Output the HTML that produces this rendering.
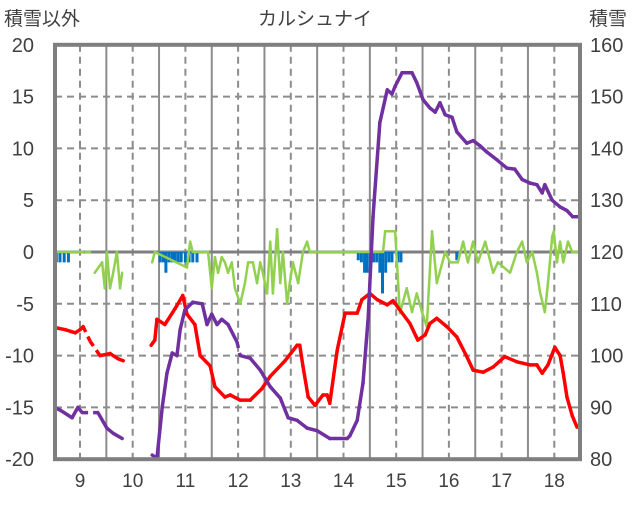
<!DOCTYPE html>
<html><head><meta charset="utf-8">
<style>
html,body{margin:0;padding:0;background:#fff;}
svg text{font-family:"Liberation Sans","Noto Sans CJK JP",sans-serif;fill:#404040;}
</style></head>
<body>
<svg id="chart" width="636" height="501" viewBox="0 0 636 501" xmlns="http://www.w3.org/2000/svg">
<text x="315" y="25" font-size="19" text-anchor="middle">カルシュナイ</text>
<text x="4" y="25" font-size="19">積雪以外</text>
<text x="589" y="25" font-size="19">積雪</text>
<g id="grid"></g><g id="bars"></g><g id="lines"></g><g id="axes"></g>
</svg>
<script>
const leftTicks=[20,15,10,5,0,-5,-10,-15,-20];
const rightTicks=[160,150,140,130,120,110,100,90,80];
const dayLabels=[9,10,11,12,13,14,15,16,17,18];
const redDays=[8.53,8.72,8.91,9.0,9.06,9.19,9.38,9.57,9.72,9.82,null,10.35,10.42,10.46,10.61,10.80,10.95,11.03,11.18,11.28,11.47,11.56,11.75,11.85,12.04,12.23,12.45,12.61,12.89,13.12,13.17,13.23,13.33,13.46,13.61,13.69,13.74,13.88,14.03,14.26,14.35,14.50,14.64,14.83,14.94,15.07,15.26,15.41,15.55,15.64,15.77,15.96,16.15,16.34,16.46,16.65,16.84,17.06,17.29,17.54,17.67,17.77,17.88,18.01,18.11,18.17,18.24,18.34,18.43];
const redVals=[-7.3,-7.5,-7.8,-7.5,-7.2,-8.6,-10,-9.8,-10.3,-10.5,null,-9,-8.5,-6.5,-7,-5.5,-4.2,-6,-7,-10,-11,-13,-14,-13.8,-14.3,-14.3,-13.2,-12,-10.5,-9,-9,-11,-14,-14.8,-13.8,-13.8,-14.6,-9.5,-5.9,-5.9,-4.6,-4,-4.6,-5.1,-4.7,-5.6,-6.9,-8.5,-8,-6.9,-6.4,-7.2,-8.2,-10.1,-11.4,-11.6,-11.1,-10.1,-10.6,-10.9,-10.9,-11.7,-10.9,-9.2,-10,-11.7,-14,-15.8,-16.9];
const redDashed=[4,5];
const snowDays=[8.53,8.62,8.85,8.96,9.04,9.34,9.51,9.63,9.80,null,10.37,10.46,10.56,10.65,10.75,10.84,10.90,10.99,11.14,11.32,11.41,11.50,11.60,11.69,11.81,11.98,12.04,12.23,12.42,12.61,12.80,12.95,13.12,13.31,13.50,13.74,14.07,14.12,14.26,14.37,14.47,14.56,14.69,14.83,14.92,14.98,15.11,15.30,15.39,15.51,15.64,15.74,15.83,15.93,16.06,16.15,16.34,16.46,16.59,16.72,16.91,17.10,17.25,17.39,17.54,17.67,17.77,17.82,17.96,18.11,18.24,18.35,18.45];
const snowVals=[89.9,89.5,88,90,89,89,86,85,84,null,80.8,80.2,90,96.6,100.5,100,105,108.8,110.3,110,106,108,106,107,106,102.6,100,99.5,97.2,94,91.8,88,87.5,86,85.5,84,84,84.5,87.5,94.7,107.5,126.8,145,151.3,150.5,152,154.6,154.6,152.7,149.4,147.8,147,148.8,146.5,146,143.2,141,141.5,140.5,139.3,137.8,136.2,136,134,133.3,133,131.4,133,130,128.7,128,126.8,126.8];
const snowDashed=[4,25];
const greenDays=[8.53,9.0,9.06,null,9.11,9.19,null,9.28,9.42,9.47,9.51,9.57,9.63,9.70,9.76,9.80,null,10.37,10.42,11.03,11.09,11.14,11.43,11.50,11.56,11.62,11.69,11.75,11.81,11.88,11.94,12.04,12.13,12.19,12.28,12.36,12.42,12.47,12.55,12.61,12.66,12.74,12.80,12.85,12.93,12.98,13.04,13.14,13.23,13.31,13.36,14.75,14.79,14.98,15.07,15.20,15.30,15.39,15.49,15.58,15.68,15.77,15.93,16.02,16.17,16.27,16.36,16.46,16.55,16.69,16.84,16.93,17.16,17.29,17.39,17.48,17.58,17.67,17.73,17.82,17.88,17.96,17.99,18.05,18.11,18.17,18.26,18.34,18.45];
const greenVals=[0,0,0,null,0,0,null,-2,-1,-3.5,0,-3.5,-2,0,-3.5,-2,null,-1,0,-1.5,1,0,0,-3.5,-0.5,-2,-0.5,-1,-2,-1,-3.5,-5,-3,-1,-1,-3,-1,-2,-4,1,-4,2.2,-3,0,-5,-3,-1,-3,0,1,0,0,2,2,-5.9,-3.5,-5.8,-4,-5.8,-7.2,2,-3,0,-1,-1,1,-1,1,-1,1,-2,-1,-2,0,1,-1,0,-2,-3.9,-5.8,-3,1.5,2,-1,1,-1,1,0,0];
const barDays=[8.55,8.62,8.70,8.78,10.52,10.58,10.63,10.69,10.75,10.80,10.86,10.92,11.0,11.07,11.14,11.22,14.28,14.34,14.40,14.45,14.51,14.57,14.63,14.69,14.74,14.80,14.86,14.92,15.03,15.09,16.15];
const barVals=[-1,-1,-1,-1,-1,-1,-2,-1,-1,-1,-1,-1,-1,-1,-1,-1,-0.8,-1,-2,-2,-1,-1,-1,-2,-4,-2,-1,-1,-1,-1,-0.8];

const NS='http://www.w3.org/2000/svg';
const X0=55,X1=580;
function X(d){return 80+(d-9)*52.7;}
function YL(v){return 252-v*10.36;}
function YR(s){return YL((s-120)/2);}
function mk(tag,attrs,parent){const e=document.createElementNS(NS,tag);for(const k in attrs)e.setAttribute(k,attrs[k]);parent.appendChild(e);return e;}
const grid=document.getElementById('grid'),bars=document.getElementById('bars'),lines=document.getElementById('lines'),axes=document.getElementById('axes');
leftTicks.forEach((t,i)=>{
  const y=YL(t);
  if(t!==0&&t!==20&&t!==-20){const l=mk('line',{x1:X0,x2:X1,y1:y,y2:y,stroke:'#8c8c8c','stroke-width':2,'stroke-dasharray':'7,5'},grid);
  
  }
  const tl=mk('text',{x:34,y:y+7,'font-size':20,'text-anchor':'end'},axes);tl.textContent=t;
  
  
  const tr=mk('text',{x:590,y:y+7,'font-size':20},axes);tr.textContent=rightTicks[i];
  
  
});
for(let d=8.5;d<=18.6;d+=0.5){
  const x=X(d);if(x<X0+2||x>X1-2)continue;
  const isInt=Math.abs(d-Math.round(d))<0.01;
  const l=mk('line',{x1:x,x2:x,y1:YL(20),y2:YL(-20),stroke:'#8c8c8c','stroke-width':2},grid);
  if(isInt)l.setAttribute('stroke-dasharray','7,5');
  
  
}
dayLabels.forEach(d=>{const t=mk('text',{x:X(d),y:487,'font-size':19,'text-anchor':'middle'},axes);t.textContent=d;
  
  });
const z=mk('line',{x1:X0,x2:X1,y1:YL(0),y2:YL(0),stroke:'#7f7f7f','stroke-width':3},grid);


barDays.forEach((d,i)=>{const y0=YL(0),y1=YL(barVals[i]);
  const r=mk('rect',{x:X(d)-1.5,y:y0,width:3,height:y1-y0,fill:'#0070c0'},bars);
  
  });
function drawSeries(days,vals,yf,color,w,dashed,name){
  for(let i=0;i<days.length-1;i++){
    if(days[i]==null||days[i+1]==null)continue;
    const l=mk('line',{x1:X(days[i]),y1:yf(vals[i]),x2:X(days[i+1]),y2:yf(vals[i+1]),stroke:color,'stroke-width':w,'stroke-linecap':'round'},lines);
    if(dashed.includes(i)){l.setAttribute('stroke-dasharray','6,5');l.setAttribute('stroke-linecap','butt');}
    
    
  }
}
drawSeries(greenDays,greenVals,YL,'#92d050',2.5,[],'green-series-segment');
drawSeries(redDays,redVals,YL,'#ff0000',3.5,redDashed,'red-series-segment');
drawSeries(snowDays,snowVals,YR,'#7030a0',3.5,snowDashed,'snow-depth-segment');
const f=mk('rect',{x:X0,y:YL(20),width:X1-X0,height:YL(-20)-YL(20),fill:'none',stroke:'#7f7f7f','stroke-width':4},axes);


</script>
</body></html>
